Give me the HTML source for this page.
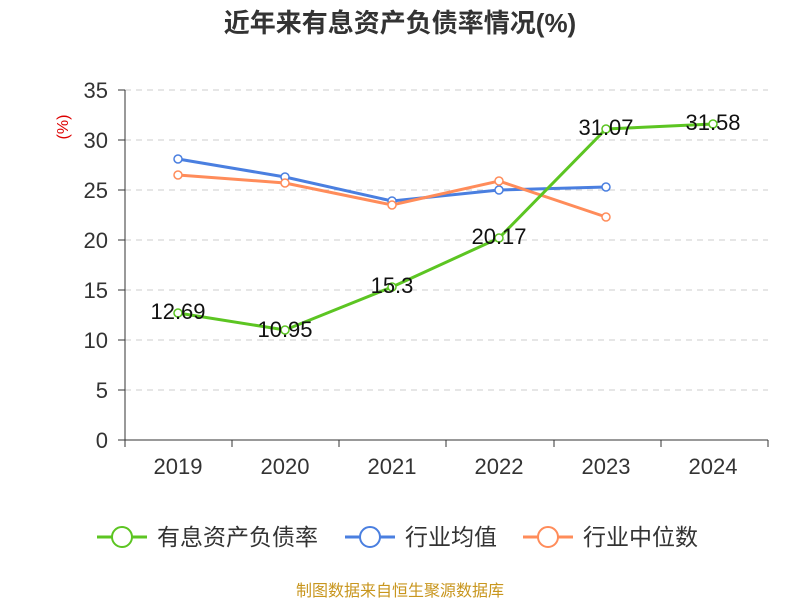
<!DOCTYPE html>
<html><head><meta charset="utf-8"><style>body{margin:0;background:#fff}</style></head><body>
<svg width="800" height="600" xmlns="http://www.w3.org/2000/svg" font-family="Liberation Sans, Noto Sans CJK SC, sans-serif">
<text x="400" y="32" text-anchor="middle" font-size="26" font-weight="bold" fill="#333">近年来有息资产负债率情况(%)</text>
<g stroke="#ccc" stroke-dasharray="6,5" stroke-width="1">
<line x1="125" x2="768" y1="90" y2="90"/><line x1="125" x2="768" y1="140" y2="140"/><line x1="125" x2="768" y1="190" y2="190"/><line x1="125" x2="768" y1="240" y2="240"/><line x1="125" x2="768" y1="290" y2="290"/><line x1="125" x2="768" y1="340" y2="340"/><line x1="125" x2="768" y1="390" y2="390"/>
</g>
<g stroke="#333" stroke-width="1">
<line x1="125" x2="125" y1="90" y2="440"/><line x1="125" x2="768" y1="440" y2="440"/>
<line x1="118" x2="125" y1="90" y2="90"/><line x1="118" x2="125" y1="140" y2="140"/><line x1="118" x2="125" y1="190" y2="190"/><line x1="118" x2="125" y1="240" y2="240"/><line x1="118" x2="125" y1="290" y2="290"/><line x1="118" x2="125" y1="340" y2="340"/><line x1="118" x2="125" y1="390" y2="390"/><line x1="118" x2="125" y1="440" y2="440"/>
<line x1="125" x2="125" y1="440" y2="447"/><line x1="232" x2="232" y1="440" y2="447"/><line x1="339" x2="339" y1="440" y2="447"/><line x1="446" x2="446" y1="440" y2="447"/><line x1="554" x2="554" y1="440" y2="447"/><line x1="661" x2="661" y1="440" y2="447"/><line x1="768" x2="768" y1="440" y2="447"/>
</g>
<g font-size="22" fill="#333" text-anchor="end">
<text x="108" y="98">35</text><text x="108" y="148">30</text><text x="108" y="198">25</text><text x="108" y="248">20</text><text x="108" y="298">15</text><text x="108" y="348">10</text><text x="108" y="398">5</text><text x="108" y="448">0</text>
</g>
<g font-size="22" fill="#333" text-anchor="middle">
<text x="178" y="474">2019</text><text x="285" y="474">2020</text><text x="392" y="474">2021</text><text x="499" y="474">2022</text><text x="606" y="474">2023</text><text x="713" y="474">2024</text>
</g>
<text x="68" y="127" font-size="16" fill="#d00" text-anchor="middle" transform="rotate(-90 68 127)">(%)</text>
<polyline fill="none" stroke="#4a7fe0" stroke-width="3" points="178,159 285,177 392,201 499,190 606,187"/>
<polyline fill="none" stroke="#ff8c5a" stroke-width="3" points="178,175 285,183 392,205 499,181 606,217"/>
<polyline fill="none" stroke="#5cc522" stroke-width="3" points="178,313 285,330 392,287 499,238 606,129 713,124"/>
<g fill="#fff" stroke-width="1.5">
<g stroke="#4a7fe0"><circle cx="178" cy="159" r="4"/><circle cx="285" cy="177" r="4"/><circle cx="392" cy="201" r="4"/><circle cx="499" cy="190" r="4"/><circle cx="606" cy="187" r="4"/></g>
<g stroke="#ff8c5a"><circle cx="178" cy="175" r="4"/><circle cx="285" cy="183" r="4"/><circle cx="392" cy="205" r="4"/><circle cx="499" cy="181" r="4"/><circle cx="606" cy="217" r="4"/></g>
<g stroke="#5cc522"><circle cx="178" cy="313" r="4"/><circle cx="285" cy="330" r="4"/><circle cx="392" cy="287" r="4"/><circle cx="499" cy="238" r="4"/><circle cx="606" cy="129" r="4"/><circle cx="713" cy="124" r="4"/></g>
</g>
<g font-size="22" fill="#111" text-anchor="middle">
<text x="178" y="319">12.69</text><text x="285" y="337">10.95</text><text x="392" y="293">15.3</text><text x="499" y="244">20.17</text><text x="606" y="135">31.07</text><text x="713" y="130">31.58</text>
</g>
<g font-size="23" fill="#333">
<line x1="97" x2="147" y1="537" y2="537" stroke="#5cc522" stroke-width="3"/><circle cx="122" cy="537" r="10" fill="#fff" stroke="#5cc522" stroke-width="2"/><text x="157" y="545">有息资产负债率</text>
<line x1="345" x2="395" y1="537" y2="537" stroke="#4a7fe0" stroke-width="3"/><circle cx="370" cy="537" r="10" fill="#fff" stroke="#4a7fe0" stroke-width="2"/><text x="405" y="545">行业均值</text>
<line x1="523" x2="573" y1="537" y2="537" stroke="#ff8c5a" stroke-width="3"/><circle cx="548" cy="537" r="10" fill="#fff" stroke="#ff8c5a" stroke-width="2"/><text x="583" y="545">行业中位数</text>
</g>
<text x="400" y="596" font-size="16" fill="#c8961e" text-anchor="middle">制图数据来自恒生聚源数据库</text>
</svg>
</body></html>
